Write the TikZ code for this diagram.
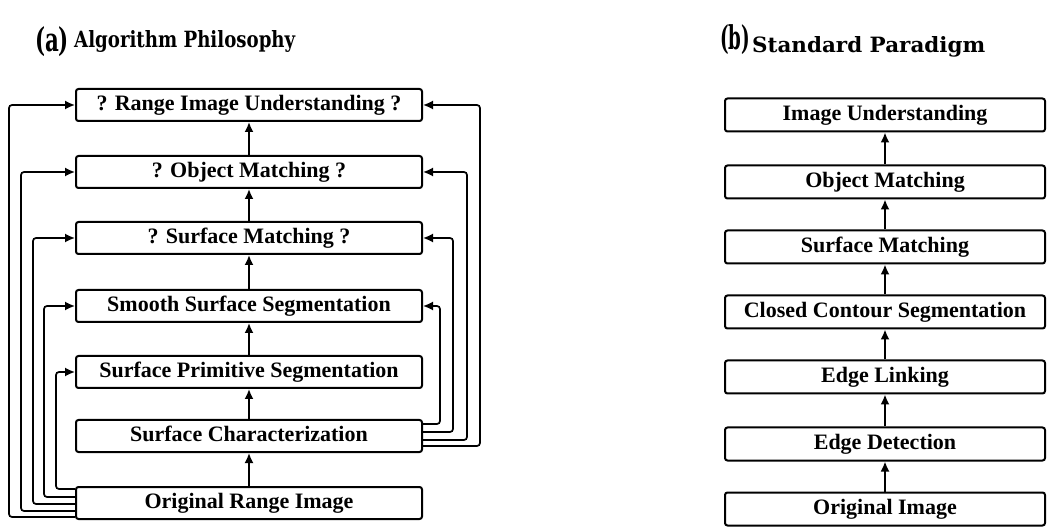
\documentclass[tikz,border=0pt]{standalone}
\usepackage{fontspec}
\usepackage{graphicx}
\newfontfamily\boxfont{Liberation Serif}
\newfontfamily\titlefont{DejaVu Serif}
\usetikzlibrary{arrows.meta,calc}
\begin{document}
\begin{tikzpicture}[x=1pt,y=-1pt,
  box/.style={draw,line width=2pt,rounded corners=2.5pt,inner sep=0pt,
    text height=14pt,text depth=3pt,
    font=\boxfont\bfseries\fontsize{22}{22}\selectfont},
  lbox/.style={box,minimum width=346pt,minimum height=32pt},
  rbox/.style={box,minimum width=320pt,minimum height=33pt},
  conn/.style={line width=1.7pt,-{Latex[length=10pt,width=9pt]},rounded corners=3pt},
  up/.style={line width=1.8pt,-{Latex[length=10pt,width=9pt]}},
  title/.style={inner sep=0pt,font=\titlefont\bfseries}]
\useasboundingbox (0,0) rectangle (1053,529);

% (a) Algorithm Philosophy
\node[title] (pa) at (52,42) {\resizebox*{34pt}{30pt}{(a)}};
\node[title,anchor=base west] (ta) at (74,48) {\resizebox{221pt}{17pt}{Algorithm Philosophy}};

\node[lbox] (riu) at (249,105) {? Range Image Understanding ?};
\node[lbox] (om)  at (249,172) {? Object Matching ?};
\node[lbox] (smm) at (249,238) {? Surface Matching ?};
\node[lbox] (sss) at (249,306) {Smooth Surface Segmentation};
\node[lbox] (sps) at (249,372) {Surface Primitive Segmentation};
\node[lbox] (sc)  at (249,436) {Surface Characterization};
\node[lbox] (ori) at (249,503) {Original Range Image};

\draw[up] (ori) -- (sc);
\draw[up] (sc) -- (sps);
\draw[up] (sps) -- (sss);
\draw[up] (sss) -- (smm);
\draw[up] (smm) -- (om);
\draw[up] (om) -- (riu);

\draw[conn] ([yshift=-3pt]ori.north west) -- ++(-19,0) |- (sps.west);
\draw[conn] ([yshift=-11pt]ori.north west) -- ++(-31,0) |- (sss.west);
\draw[conn] ([yshift=-18pt]ori.north west) -- ++(-42,0) |- (smm.west);
\draw[conn] ([yshift=-25pt]ori.north west) -- ++(-54,0) |- (om.west);
\draw[conn] ([yshift=-31pt]ori.north west) -- ++(-66,0) |- (riu.west);

\draw[conn] ([yshift=-5pt]sc.north east) -- ++(17,0) |- (sss.east);
\draw[conn] ([yshift=-13pt]sc.north east) -- ++(30,0) |- (smm.east);
\draw[conn] ([yshift=-21pt]sc.north east) -- ++(44,0) |- (om.east);
\draw[conn] ([yshift=-27pt]sc.north east) -- ++(57,0) |- (riu.east);

% (b) Standard Paradigm
\node[title] (pb) at (735,40) {\resizebox*{30pt}{30pt}{(b)}};
\node[title,anchor=base west] (tb) at (752,53) {\resizebox{233pt}{16pt}{Standard Paradigm}};

\node[rbox] (iu)  at (885,115) {Image Understanding};
\node[rbox] (omr) at (885,182) {Object Matching};
\node[rbox] (smr) at (885,247) {Surface Matching};
\node[rbox] (ccs) at (885,312) {Closed Contour Segmentation};
\node[rbox] (el)  at (885,377) {Edge Linking};
\node[rbox] (ed)  at (885,444) {Edge Detection};
\node[rbox] (oi)  at (885,509) {Original Image};

\draw[up] (oi) -- (ed);
\draw[up] (ed) -- (el);
\draw[up] (el) -- (ccs);
\draw[up] (ccs) -- (smr);
\draw[up] (smr) -- (omr);
\draw[up] (omr) -- (iu);
\end{tikzpicture}
\end{document}
